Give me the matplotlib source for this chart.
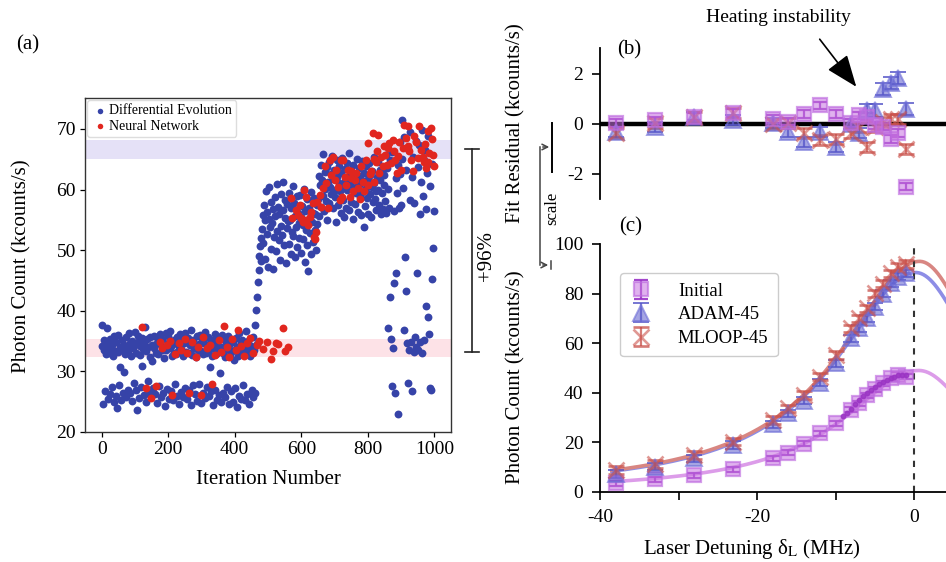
import numpy as np
import matplotlib
matplotlib.use('Agg')
import matplotlib.pyplot as plt
from matplotlib.lines import Line2D
from matplotlib.patches import FancyArrowPatch

plt.rcParams['font.family'] = ['Liberation Serif', 'DejaVu Serif']
plt.rcParams['mathtext.fontset'] = 'stix'
plt.rcParams['axes.unicode_minus'] = False

# ---------------- Panel (a) data ----------------
de_iter_start, de_iter_step = 0, 2
de_counts = [
    37.6, 34.2, 24.6, 33.5, 35.1, 26.8, 34.0, 32.8, 37.2, 25.4,
    34.6, 33.1, 26.2, 35.4, 33.8, 27.4, 34.3, 32.5, 24.9, 35.8,
    33.4, 26.0, 34.9, 23.9, 33.2, 36.0, 27.8, 34.1, 30.8, 25.3,
    35.2, 33.6, 26.5, 34.4, 29.9, 32.9, 35.7, 25.8, 34.0, 27.0,
    33.3, 36.3, 26.4, 34.7, 32.6, 25.1, 35.0, 33.9, 28.1, 34.5,
    36.5, 26.9, 33.0, 23.6, 34.8, 35.9, 25.6, 32.7, 34.2, 27.5,
    30.9, 35.5, 33.7, 26.1, 34.6, 37.4, 25.0, 33.4, 35.3, 28.4,
    34.0, 26.7, 32.4, 35.6, 25.9, 34.3, 31.7, 27.3, 33.8, 35.8,
    26.2, 34.5, 33.0, 24.8, 35.1, 32.8, 27.6, 34.9, 36.2, 25.7,
    33.6, 35.4, 26.4, 34.1, 32.2, 24.3, 36.4, 33.5, 27.1, 34.7,
    35.9, 25.5, 33.9, 36.6, 26.8, 32.6, 34.4, 25.2, 35.2, 33.1,
    27.9, 34.8, 32.9, 26.0, 35.7, 33.3, 24.7, 34.2, 36.1, 26.6,
    33.7, 35.0, 25.8, 32.5, 34.6, 27.2, 36.3, 33.2, 25.4, 34.9,
    35.5, 26.9, 33.0, 34.3, 24.5, 36.8, 32.7, 27.7, 35.2, 33.8,
    26.3, 34.0, 32.3, 25.1, 35.8, 33.6, 28.0, 34.5, 36.0, 24.8,
    33.4, 35.3, 26.5, 32.8, 34.7, 25.6, 36.5, 33.1, 27.4, 34.2,
    35.6, 25.9, 33.5, 30.8, 26.7, 34.8, 32.6, 24.4, 35.1, 33.9,
    27.0, 36.2, 32.9, 25.3, 34.4, 33.2, 26.1, 35.7, 29.8, 24.9,
    34.1, 36.0, 26.4, 33.0, 35.4, 25.7, 32.4, 34.6, 27.5, 33.7,
    35.9, 24.6, 34.3, 32.7, 26.8, 35.2, 33.4, 25.0, 34.9, 31.9,
    27.3, 33.6, 35.5, 24.2, 34.0, 32.5, 26.0, 36.4, 33.1, 25.5,
    34.7, 35.1, 27.8, 32.8, 33.9, 25.2, 34.5, 36.7, 26.3, 33.3,
    35.0, 24.7, 33.8, 32.6, 26.5, 34.2, 27.0, 35.6, 25.8, 33.5,
    37.7, 26.4, 40.2, 34.5, 42.3, 44.7, 46.8, 49.0, 50.7, 52.0, 48.2,
    53.5, 55.8, 51.2, 57.4, 48.6, 54.9, 59.8, 52.7, 56.3, 47.3,
    55.1, 60.4, 53.8, 50.2, 57.9, 54.4, 46.9, 56.8, 52.1, 58.7,
    55.6, 49.8, 60.9, 53.2, 57.1, 51.6, 55.9, 48.3, 59.3, 54.0,
    52.5, 56.6, 61.2, 50.8, 55.3, 58.2, 47.8, 53.6, 57.6, 54.8,
    51.0, 59.5, 55.0, 49.3, 56.9, 53.0, 60.6, 52.3, 57.8, 48.9,
    55.7, 53.9, 58.9, 50.5, 56.2, 54.5, 52.0, 59.1, 49.6, 55.4,
    57.3, 51.9, 54.2, 60.1, 48.1, 56.4, 53.4, 58.4, 50.9, 46.5,
    55.2, 57.0, 52.8, 59.6, 49.4, 54.7, 56.1, 51.4, 58.6, 53.3,
    55.9, 50.0, 57.5, 54.3,
    58.5, 62.3, 55.6, 60.8, 64.1, 57.2, 61.5, 59.0, 65.9, 56.4,
    62.9, 60.1, 58.1, 63.7, 55.0, 61.2, 64.6, 57.8, 60.4, 62.6,
    59.3, 65.5, 56.9, 61.8, 63.2, 58.7, 60.0, 54.6, 62.1, 64.9,
    57.5, 61.0, 63.9, 59.7, 56.1, 62.7, 65.2, 58.3, 60.6, 55.4,
    63.4, 61.6, 57.0, 64.4, 59.9, 62.0, 66.0, 56.6, 60.9, 63.0,
    58.0, 61.9, 55.2, 64.0, 60.3, 62.5, 57.6, 59.4, 65.0, 61.3,
    56.3, 63.6, 60.7, 58.8, 62.2, 55.8, 64.7, 59.6, 61.4, 53.9,
    62.8, 57.3, 60.2, 63.8, 58.6, 56.0, 61.7, 64.3, 59.2, 62.4,
    55.5, 60.5, 63.1, 57.9, 61.1, 65.3, 58.4, 59.8, 56.7, 62.0,
    64.5, 60.0, 57.4, 61.6, 63.3, 55.9, 59.5, 62.9, 56.8, 60.7,
    62.4, 58.1, 65.7, 56.2, 63.5, 37.2, 60.1, 57.0, 64.8, 42.3,
    35.3, 27.6, 66.2, 33.9, 44.6, 56.5, 26.4, 61.9, 46.3, 59.4,
    22.9, 64.0, 56.9, 67.8, 62.6, 57.4, 71.4, 65.1, 60.3, 68.6,
    36.8, 48.8, 63.3, 43.2, 34.6, 66.7, 28.1, 33.5, 58.2, 69.5,
    34.9, 62.1, 26.7, 65.4, 33.2, 57.8, 35.6, 68.0, 34.0, 46.3,
    63.7, 33.6, 67.3, 56.0, 34.8, 61.2, 69.9, 33.1, 58.9, 64.9,
    35.2, 66.5, 40.8, 56.8, 62.8, 39.0, 68.8, 36.1, 27.2, 60.6,
    27.0, 45.2, 64.2, 50.4, 56.4,
]

nn_iter = [
    122, 134, 149, 164, 175, 182, 196, 205, 212, 220, 232, 240, 250, 258, 264, 272,
    283, 290, 299, 306, 318, 325, 332, 340, 352, 360, 369, 376, 384, 392, 404, 410,
    418, 428, 436, 446, 456, 466, 474, 486, 496, 509, 516, 524, 530, 546, 552, 559,
    570, 572, 585, 590, 596, 600, 604, 608, 613, 615, 620, 625, 630, 635, 638, 641,
    645, 648, 655, 660, 665, 670, 675, 680, 685, 690, 695, 700, 705, 710, 715, 720,
    722, 725, 730, 735, 740, 745, 748, 750, 755, 760, 765, 770, 775, 780, 785, 790,
    795, 800, 802, 806, 810, 815, 818, 820, 825, 828, 830, 835, 840, 845, 850, 852,
    858, 862, 865, 870, 875, 880, 882, 887, 890, 895, 900, 905, 910, 914, 920, 922,
    925, 930, 935, 940, 945, 950, 955, 960, 965, 968, 972, 975, 980, 982, 985, 990,
    993, 995, 998,
]
nn_counts = [
    37.3, 27.2, 25.6, 27.6, 34.8, 33.9, 34.3, 35.0, 26.1, 32.9, 34.6, 33.5, 35.3, 33.0, 26.5, 34.9,
    32.4, 34.1, 26.1, 35.6, 33.8, 34.4, 27.9, 32.7, 35.1, 33.2, 37.5, 34.0, 32.3, 35.4, 33.6, 36.8,
    34.2, 32.6, 34.7, 35.5, 33.1, 34.3, 35.0, 33.7, 34.9, 32.0, 33.4, 34.7, 34.5, 37.1, 33.3, 34.1,
    58.6, 55.3, 56.6, 55.8, 57.5, 55.3, 54.6, 59.9, 58.7, 55.0, 54.2, 55.5, 56.3, 57.7, 52.2, 51.8,
    53.0, 58.0, 59.1, 57.2, 60.2, 63.8, 61.0, 56.9, 64.9, 62.4, 65.4, 61.6, 63.2, 60.5, 58.3, 64.9,
    58.8, 64.8, 62.1, 60.8, 63.2, 58.8, 61.9, 63.0, 59.7, 61.6, 62.7, 60.2, 58.5, 63.8, 61.2, 59.7,
    64.9, 67.6, 60.8, 62.5, 63.0, 69.3, 65.0, 61.3, 64.6, 66.4, 69.0, 62.8, 65.3, 63.9, 67.1, 65.7,
    64.1, 66.9, 67.6, 64.3, 68.2, 66.3, 64.8, 62.7, 65.5, 67.9, 63.2, 66.8, 70.7, 68.5, 70.4, 67.1,
    66.3, 64.9, 63.0, 68.8, 67.9, 65.2, 70.4, 66.6, 65.4, 64.6, 67.5, 63.6, 69.6, 64.6, 66.0, 70.1,
    68.4, 65.7, 63.8,
]
band_high = [65.0, 68.2]   # shaded target band (optimised)
band_low = [32.3, 35.4]    # shaded band (initial)

# ---------------- Panels (b), (c) data ----------------
detuning = [-38, -33, -28, -23, -18, -16, -14, -12, -10, -8, -7, -6, -5, -4, -3, -2, -1]

init_counts = [3.5, 5.1, 6.8, 9.1, 13.6, 15.9, 19.4, 23.7, 27.7, 33.1, 35.8, 39.1, 41.4, 43.8, 45.8, 47.2, 46.5]
adam_counts = [7.2, 10.2, 13.6, 19.0, 27.3, 31.7, 36.8, 44.1, 51.9, 62.0, 66.0, 70.0, 74.7, 80.0, 84.1, 86.8, 88.2]
mloop_counts = [8.9, 11.3, 14.9, 20.3, 29.0, 33.7, 39.1, 46.5, 55.2, 66.0, 70.0, 74.0, 80.1, 84.0, 88.2, 90.8, 91.9]
init_err = [1.0] * 17
adam_err = [1.5] * 17
mloop_err = [1.5] * 17

# finer scan of the initial configuration near resonance (small dots)
fine_detuning = [-9.0, -8.5, -8.0, -7.5, -7.0, -6.5, -6.0, -5.5, -5.0, -4.5, -4.0, -3.5, -3.0, -2.5, -2.0, -1.5, -1.0]
fine_counts = [30.5, 32.0, 33.5, 35.5, 37.0, 38.6, 39.8, 41.0, 42.3, 43.5, 44.5, 45.3, 46.0, 46.5, 47.0, 47.3, 47.2]

init_resid = [0.05, 0.15, 0.3, 0.45, 0.2, 0.1, 0.4, 0.75, 0.4, 0.05, 0.35, 0.3, -0.05, -0.1, -0.6, -0.35, -2.5]
adam_resid = [-0.3, -0.1, 0.3, 0.15, 0.05, -0.3, -0.7, -0.3, -0.9, 0.0, -0.35, 0.55, 0.55, 1.4, 1.65, 1.85, 0.6]
mloop_resid = [-0.35, 0.05, 0.3, 0.45, 0.0, 0.05, -0.35, -0.65, -0.6, -0.35, -0.1, -0.9, -0.1, 0.1, 0.2, 0.2, -1.0]
init_rerr = [0.15] * 17
adam_rerr = [0.2, 0.2, 0.2, 0.2, 0.2, 0.2, 0.2, 0.2, 0.2, 0.2, 0.2, 0.25, 0.25, 0.25, 0.25, 0.25, 0.25]
mloop_rerr = [0.2] * 17

# asymmetric Lorentzian fit parameters: amplitude, centre, left width, right width
fit_init = [49.0, 0.6, 11.9, 9.0]
fit_adam = [88.5, 0.2, 12.5, 10.0]
fit_mloop = [93.0, 0.7, 12.6, 9.8]
fit_range = [-38.5, 4.5]

series_labels = ['Initial', 'ADAM-45', 'MLOOP-45']


def fit_curve(p, x):
    a, x0, wl, wr = p
    w = np.where(x < x0, wl, wr)
    return a / (1 + ((x - x0) / w) ** 2)


# ---------------- Figure ----------------
W, H = 946, 562
fig = plt.figure(figsize=(W / 100, H / 100), dpi=100)


def fx(px):
    return px / W


def fy(py):
    return 1 - py / H


TICK = 14
LAB = 15

# ---- (a)
axA = fig.add_axes([fx(85), fy(432), (451 - 85) / W, (432 - 98) / H])
axA.axhspan(band_high[0], band_high[1], color='#e5e1f7', lw=0, zorder=0)
axA.axhspan(band_low[0], band_low[1], color='#fde2e7', lw=0, zorder=0)
de_iter = de_iter_start + de_iter_step * np.arange(len(de_counts))
axA.scatter(de_iter, de_counts, s=32, color='#3643a8', lw=0, zorder=2, label='Differential Evolution')
axA.scatter(nn_iter, nn_counts, s=32, color='#e1261f', lw=0, zorder=3, label='Neural Network')
axA.set_xlim(-50, 1050)
axA.set_ylim(20, 75.1)
axA.set_xticks([0, 200, 400, 600, 800, 1000])
axA.set_yticks([20, 30, 40, 50, 60, 70])
axA.tick_params(direction='out', length=3.5, width=0.9, labelsize=TICK, pad=3)
for s in axA.spines.values():
    s.set_linewidth(1.0)
    s.set_color('#333333')
legA = axA.legend(loc='upper left', fontsize=10, markerscale=0.7, handletextpad=0.1,
                  borderpad=0.3, labelspacing=0.2, handlelength=1.2, borderaxespad=0.15,
                  frameon=True, fancybox=True, edgecolor='#dddddd', framealpha=1)
fig.text(fx(268), fy(480), 'Iteration Number', fontsize=LAB, ha='center', va='center')
fig.text(fx(22), fy(266), 'Photon Count (kcounts/s)', fontsize=LAB, ha='center', va='center', rotation=90)
fig.text(fx(28), fy(45), '(a)', fontsize=LAB, ha='center', va='center')

# +96% bracket
fig.add_artist(Line2D([fx(472), fx(472)], [fy(149), fy(352)], color='#222222', lw=1.2))
fig.add_artist(Line2D([fx(465), fx(479)], [fy(149), fy(149)], color='#222222', lw=1.2))
fig.add_artist(Line2D([fx(465), fx(479)], [fy(352), fy(352)], color='#222222', lw=1.2))
fig.text(fx(486), fy(256), '+96%', fontsize=LAB, ha='center', va='center', rotation=90)

# ---- (b) and (c)
x_left, x_right = -40, 4.06
axB = fig.add_axes([fx(600), fy(199), (946 - 600) / W, (199 - 48) / H])
axC = fig.add_axes([fx(600), fy(492), (946 - 600) / W, (492 - 244) / H])

styles = [
    dict(fmt='s', ms=10, mfc=(0.78, 0.45, 0.88, 0.55), mec=(0.74, 0.42, 0.88, 0.65), mew=1.6,
         ecolor=(0.6, 0.2, 0.78, 0.9), elinewidth=1.6, capsize=5, capthick=1.6),
    dict(fmt='^', ms=11, mfc=(0.36, 0.36, 0.80, 0.55), mec=(0.45, 0.45, 0.85, 0.65), mew=1.4,
         ecolor=(0.33, 0.33, 0.78, 0.8), elinewidth=1.6, capsize=6, capthick=1.6),
    dict(fmt='x', ms=11, mew=1.9, color=(0.80, 0.33, 0.30, 0.6), mec=(0.80, 0.33, 0.30, 0.6),
         ecolor=(0.78, 0.30, 0.28, 0.75), elinewidth=1.6, capsize=6, capthick=1.6),
]

# (b) residuals
axB.axhline(0, color='black', lw=3.2, zorder=1)
for vals, errs, st in zip([adam_resid, mloop_resid, init_resid],
                          [adam_rerr, mloop_rerr, init_rerr],
                          [styles[1], styles[2], styles[0]]):
    axB.errorbar(detuning, vals, yerr=errs, zorder=3, **st)
axB.set_xlim(x_left, x_right)
axB.set_ylim(-3, 3.04)
axB.set_yticks([-2, 0, 2])
axB.set_xticks([])
for k in ['top', 'right', 'bottom']:
    axB.spines[k].set_visible(False)
axB.spines['left'].set_linewidth(1.3)
axB.tick_params(axis='y', direction='out', length=6, width=1.2, labelsize=TICK, pad=6)
axB.patch.set_alpha(0)

# (c) spectra
xfit = np.linspace(fit_range[0], fit_range[1], 300)
line_cols = ['#dc9ce9', '#8d8de6', '#d88682']
for p, lc in zip([fit_init, fit_adam, fit_mloop], line_cols):
    axC.plot(xfit, fit_curve(p, xfit), color=lc, lw=2.6, zorder=1)
axC.axvline(0, color='#333333', ls=(0, (3, 3)), lw=1.5, zorder=2)
axC.plot(fine_detuning, fine_counts, 'o', ms=3.2, color='#9b35c4', alpha=0.85, zorder=4)
handles = []
for vals, errs, st in zip([init_counts, adam_counts, mloop_counts],
                          [init_err, adam_err, mloop_err], styles):
    handles.append(axC.errorbar(detuning, vals, yerr=errs, zorder=3, **st))
axC.set_xlim(x_left, x_right)
axC.set_ylim(0, 100)
axC.set_xticks([-40, -30, -20, -10, 0])
axC.set_xticklabels(['-40', '', '-20', '', '0'])
axC.set_yticks([0, 20, 40, 60, 80, 100])
for k in ['top', 'right']:
    axC.spines[k].set_visible(False)
for k in ['left', 'bottom']:
    axC.spines[k].set_linewidth(1.3)
axC.tick_params(direction='out', length=6, width=1.2, labelsize=TICK, pad=6)
axC.legend(handles, series_labels, loc='upper left', bbox_to_anchor=(0.03, 0.92),
           fontsize=13.5, frameon=True, fancybox=True, edgecolor='#cccccc', framealpha=1,
           handlelength=1.3, handletextpad=1.3, borderpad=0.5, labelspacing=0.35)

fig.text(fx(516), fy(123), 'Fit Residual (kcounts/s)', fontsize=LAB, ha='center', va='center', rotation=90)
fig.text(fx(516), fy(377), 'Photon Count (kcounts/s)', fontsize=LAB, ha='center', va='center', rotation=90)
fig.text(fx(752), fy(549), 'Laser Detuning δ$_{\\rm L}$ (MHz)', fontsize=LAB, ha='center', va='center')
fig.text(fx(629), fy(50), '(b)', fontsize=LAB, ha='center', va='center')
fig.text(fx(631), fy(227), '(c)', fontsize=LAB, ha='center', va='center')
fig.text(fx(778), fy(18), 'Heating instability', fontsize=14, ha='center', va='center')

# arrow
fig.add_artist(FancyArrowPatch((fx(818), fy(37)), (fx(858), fy(89)), transform=fig.transFigure,
                               arrowstyle='-|>,head_length=0.9,head_width=0.35', mutation_scale=22,
                               color='black', lw=1.2))

# scale bracket
fig.add_artist(Line2D([fx(552), fx(552)], [fy(123), fy(172)], color='black', lw=1.4))
fig.add_artist(Line2D([fx(540), fx(540)], [fy(147), fy(265)], color='#444444', lw=1.1))
fig.add_artist(FancyArrowPatch((fx(540), fy(147)), (fx(552), fy(147)), transform=fig.transFigure,
                               arrowstyle='->,head_length=0.4,head_width=0.2', mutation_scale=10,
                               color='#444444', lw=1.1))
fig.add_artist(FancyArrowPatch((fx(540), fy(265)), (fx(551), fy(265)), transform=fig.transFigure,
                               arrowstyle='->,head_length=0.4,head_width=0.2', mutation_scale=10,
                               color='#444444', lw=1.1))
fig.add_artist(Line2D([fx(551), fx(551)], [fy(261), fy(269)], color='#444444', lw=1.1))
fig.text(fx(552), fy(208), 'scale', fontsize=12, ha='center', va='center', rotation=90)

fig.savefig('out.png', dpi=100)
